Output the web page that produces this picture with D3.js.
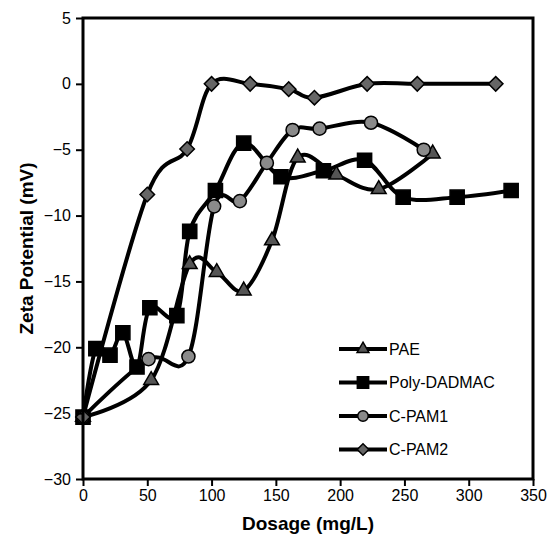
<!DOCTYPE html>
<html>
<head>
<meta charset="utf-8">
<script src="https://cdn.jsdelivr.net/npm/d3@7"></script>
<style>
  body { margin: 0; background: #fff; }
  text { font-family: "Liberation Sans", Arial, sans-serif; }
</style>
</head>
<body>
<div id="chart"></div>
<script>
var width = 556,
    height = 534,
    pLeft = 83, pRight = 533, pTop = 18, pBottom = 479;

// series
var paeX  = [0, 53, 83, 104, 125, 147, 167, 197, 230, 272];
var paeY  = [-25.3, -22.5, -13.7, -14.3, -15.7, -11.9, -5.6, -6.9, -8.0, -5.3];
var dadX  = [0, 10, 21, 31, 42, 52, 73, 83, 103, 125, 154, 187, 219, 249, 291, 333];
var dadY  = [-25.3, -20.1, -20.6, -18.9, -21.5, -17.0, -17.6, -11.2, -8.1, -4.5, -7.05, -6.6, -5.8, -8.6, -8.6, -8.1];
var pam1X = [0, 51, 82, 102, 122, 143, 163, 184, 224, 265];
var pam1Y = [-25.3, -20.9, -20.7, -9.3, -8.9, -6.0, -3.5, -3.4, -2.95, -5.0];
var pam2X = [0, 50, 81, 100, 130, 160, 180, 221, 260, 321];
var pam2Y = [-25.3, -8.4, -4.95, 0, 0, -0.4, -1.05, 0, 0, 0];

var names = ["PAE", "Poly-DADMAC", "C-PAM1", "C-PAM2"];
var xTicks = [0, 50, 100, 150, 200, 250, 300, 350];
var yTicks = [5, 0, -5, -10, -15, -20, -25, -30];

function zip(xs, ys) {
    return xs.map(function(x, i) { return [x, ys[i]]; });
}

var series = [
    { name: names[0], pts: zip(paeX, paeY),   mark: "tri",  fill: "#555" },
    { name: names[1], pts: zip(dadX, dadY),   mark: "sq",   fill: "#000" },
    { name: names[2], pts: zip(pam1X, pam1Y), mark: "circ", fill: "#8a8a8a" },
    { name: names[3], pts: zip(pam2X, pam2Y), mark: "dia",  fill: "#666" }
];

var x = d3.scaleLinear().domain([0, 350]).range([pLeft, pRight]);
var y = d3.scaleLinear().domain([-30, 5]).range([pBottom, pTop]);

var svg = d3.select("#chart").append("svg")
    .attr("width", width)
    .attr("height", height);

// markers
function symbolPath(mark, scale) {
    var s = scale || 1;
    if (mark == "tri")  return d3.symbol(d3.symbolTriangle, 95 * s * s)();
    if (mark == "sq")   return d3.symbol(d3.symbolSquare, 200 * s * s)();
    if (mark == "circ") return d3.symbol(d3.symbolCircle, 135 * s * s)();
    return d3.symbol(d3.symbolSquare, 105 * s * s)();
}

// excel-like smoothing
var line = d3.line()
    .x(function(d) { return x(d[0]); })
    .y(function(d) { return y(d[1]); })
    .curve(d3.curveCardinal.tension(0));

var plot = svg.append("g").attr("id", "plot");

series.forEach(function(s) {
    plot.append("path")
        .attr("d", line(s.pts))
        .attr("fill", "none")
        .attr("stroke", "#000")
        .attr("stroke-width", 4)
        .attr("stroke-linejoin", "round");
});

series.forEach(function(s) {
    plot.selectAll(null)
        .data(s.pts)
        .enter()
        .append("path")
        .attr("d", symbolPath(s.mark))
        .attr("transform", function(d) {
            var t = "translate(" + x(d[0]) + "," + y(d[1]) + ")";
            return s.mark == "dia" ? t + " rotate(45)" : t;
        })
        .attr("fill", s.fill)
        .attr("stroke", "#000")
        .attr("stroke-width", 1.5);
});

// frame
svg.append("rect")
    .attr("x", pLeft).attr("y", pTop)
    .attr("width", pRight - pLeft).attr("height", pBottom - pTop)
    .attr("fill", "none")
    .attr("stroke", "#000")
    .attr("stroke-width", 3);

// axes
var gx = svg.append("g")
    .attr("transform", "translate(0," + pBottom + ")")
    .call(d3.axisBottom(x).tickValues(xTicks).tickSize(7).tickPadding(4).tickFormat(d3.format("d")));
var gy = svg.append("g")
    .attr("transform", "translate(" + pLeft + ",0)")
    .call(d3.axisLeft(y).tickValues(yTicks).tickSize(7).tickPadding(5).tickFormat(d3.format("d")));

[gx, gy].forEach(function(g) {
    g.select(".domain").remove();
    g.selectAll(".tick line").attr("stroke", "#000").attr("stroke-width", 2);
    g.selectAll(".tick text")
        .style("font-family", "'Liberation Sans', Arial, sans-serif")
        .style("font-size", "16px")
        .attr("fill", "#000");
});

svg.append("text")
    .attr("x", (pLeft + pRight) / 2)
    .attr("y", 530)
    .attr("text-anchor", "middle")
    .style("font-size", "19px")
    .style("font-weight", "bold")
    .text("Dosage (mg/L)");

svg.append("text")
    .attr("transform", "translate(33," + (pTop + pBottom) / 2 + ") rotate(-90)")
    .attr("text-anchor", "middle")
    .style("font-size", "19px")
    .style("font-weight", "bold")
    .text("Zeta Potential (mV)");

// legend
var legend = svg.append("g").selectAll("g")
    .data(series)
    .enter()
    .append("g")
    .attr("transform", function(d, i) { return "translate(339," + (349 + i * 33.5) + ")"; });

legend.append("line")
    .attr("x1", 0).attr("x2", 48)
    .attr("stroke", "#000")
    .attr("stroke-width", 4);

legend.append("path")
    .attr("d", function(d) { return symbolPath(d.mark, 0.8); })
    .attr("transform", function(d) { return d.mark == "dia" ? "translate(24,0) rotate(45)" : "translate(24,0)"; })
    .attr("fill", function(d) { return d.fill; })
    .attr("stroke", "#000")
    .attr("stroke-width", 1.5);

legend.append("text")
    .attr("x", 50)
    .attr("dy", "0.36em")
    .style("font-size", "16px")
    .text(function(d) { return d.name; });
</script>
</body>
</html>
